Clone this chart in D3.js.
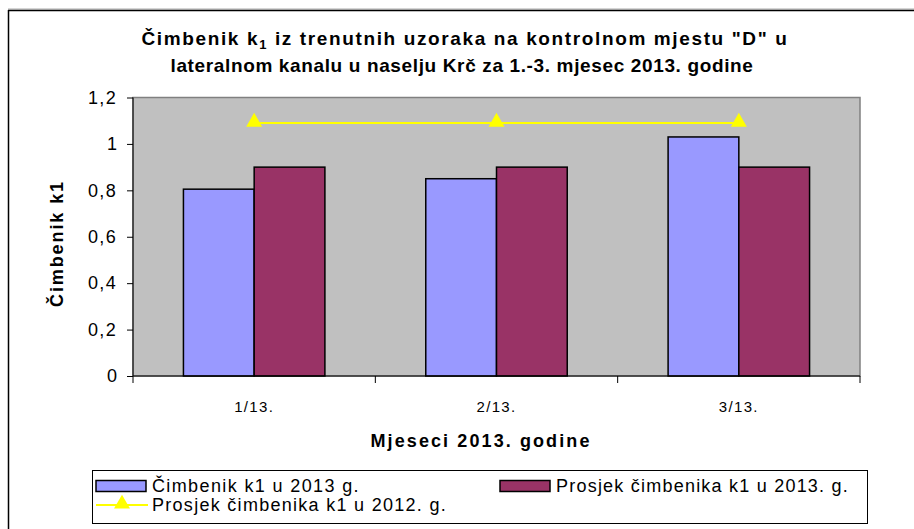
<!DOCTYPE html>
<html>
<head>
<style>
body {margin: 0; background: #fff;}
text {font-family: "Liberation Sans", Arial, sans-serif;}
</style>
<script src="https://d3js.org/d3.v7.min.js"></script>
</head>
<body>
<svg id="chart" width="914" height="529"></svg>
<script>
// chart data
var months = ["1/13.", "2/13.", "3/13."];
var k1_2013 = [0.805, 0.85, 1.03];
var avg_2013 = [0.9, 0.9, 0.9];
var avg_2012 = [1.09, 1.09, 1.09];
var yTicks = [0, 0.2, 0.4, 0.6, 0.8, 1, 1.2];
var seriesNames = ["Čimbenik k1 u 2013 g.", "Prosjek čimbenika k1 u 2013. g.", "Prosjek čimbenika k1 u 2012. g."];

var svg = d3.select("#chart");
var pLeft = 133, pRight = 860, pTop = 97.5, pBottom = 376;

// spread letters so a text reaches the width it has in the picture
function fit(sel, target) {
  sel.each(function() {
    var len = this.getComputedTextLength();
    var n = this.textContent.length;
    if (n > 1) d3.select(this).style("letter-spacing", ((target - len) / n) + "px");
  });
}

// outer frame (top + left visible)
svg.append("line").attr("x1", 8).attr("y1", 9).attr("x2", 914).attr("y2", 9).style("stroke", "#aaa");
svg.append("line").attr("x1", 8).attr("y1", 10.5).attr("x2", 914).attr("y2", 10.5).style("stroke", "#000").style("stroke-width", 1.5);
svg.append("line").attr("x1", 8.5).attr("y1", 10).attr("x2", 8.5).attr("y2", 529).style("stroke", "#000").style("stroke-width", 1.5);

var x = d3.scaleBand().domain(months).range([pLeft, pRight]).paddingInner(0).paddingOuter(0);
var inner = d3.scaleBand().domain([0, 1]).range([0, x.bandwidth()]).paddingOuter(0.713).paddingInner(0);
var y = d3.scaleLinear().domain([0, 1.2]).range([pBottom, pTop]);

// plot background
svg.append("rect").attr("x", pLeft).attr("y", pTop).attr("width", pRight - pLeft).attr("height", pBottom - pTop)
  .style("fill", "#c0c0c0").style("stroke", "#808080").style("stroke-width", 1.5);

// bars
var colors = ["#9999ff", "#993366"];
[k1_2013, avg_2013].forEach(function(series, s) {
  svg.append("g").selectAll("rect").data(series).enter().append("rect")
    .attr("x", function(d, i) { return x(months[i]) + inner(s); })
    .attr("y", function(d) { return y(d); })
    .attr("width", inner.bandwidth())
    .attr("height", function(d) { return y(0) - y(d); })
    .style("fill", colors[s]).style("stroke", "#000").style("stroke-width", 1.5);
});

// 2012 average line
var cx = function(d, i) { return x(months[i]) + x.bandwidth() / 2; };
var line = d3.line().x(cx).y(function(d) { return y(d); });
svg.append("path").datum(avg_2012).attr("d", line).style("fill", "none").style("stroke", "#ffff00").style("stroke-width", 2);
svg.append("g").selectAll("path").data(avg_2012).enter().append("path")
  .attr("d", d3.symbol().type(d3.symbolTriangle).size(110))
  .attr("transform", function(d, i) { return "translate(" + cx(d, i) + "," + (y(d) - 1) + ")"; })
  .style("fill", "#ffff00");

// axes
var yAxis = d3.axisLeft(y).tickValues(yTicks).tickSize(6).tickPadding(10)
  .tickFormat(function(d) { return String(d).replace(".", ","); });
var gy = svg.append("g").attr("transform", "translate(" + pLeft + ",0)").call(yAxis);
gy.selectAll("text").style("font-size", "18px").style("fill", "#000");
gy.selectAll("line, path").style("stroke", "#000");
gy.select(".domain").attr("d", "M0," + pTop + "V" + pBottom);
gy.selectAll("text").filter(function(d) { return d !== 0 && d !== 1; }).call(fit, 29);

var xAxis = d3.axisBottom(x).tickSize(0).tickPadding(25);
var gx = svg.append("g").attr("transform", "translate(0," + pBottom + ")").call(xAxis);
gx.select(".domain").attr("d", "M" + pLeft + ",0H" + pRight).style("stroke", "#000");
gx.selectAll("text").style("font-size", "15px").style("fill", "#000").call(fit, 40);
gx.selectAll("line.sep").data(months.concat(["end"])).enter().append("line").attr("class", "sep")
  .attr("x1", function(d, i) { return pLeft + i * x.bandwidth(); })
  .attr("x2", function(d, i) { return pLeft + i * x.bandwidth(); })
  .attr("y1", 0).attr("y2", 7).style("stroke", "#000");

// titles
var title = svg.append("text").attr("x", 465).attr("y", 45).attr("text-anchor", "middle")
  .style("font-size", "19px").style("font-weight", "bold");
title.append("tspan").text("Čimbenik k");
title.append("tspan").attr("dy", 4).style("font-size", "13px").text("1");
title.append("tspan").attr("dy", -4).text(" iz trenutnih uzoraka na kontrolnom mjestu \"D\" u");
title.call(fit, 647);
svg.append("text").attr("x", 462).attr("y", 72).attr("text-anchor", "middle")
  .style("font-size", "19px").style("font-weight", "bold")
  .text("lateralnom kanalu u naselju Krč za 1.-3. mjesec 2013. godine").call(fit, 583);

svg.append("text").attr("transform", "translate(63,243.5) rotate(-90)").attr("text-anchor", "middle")
  .style("font-size", "18px").style("font-weight", "bold").text("Čimbenik k1").call(fit, 127);
svg.append("text").attr("x", 481).attr("y", 447).attr("text-anchor", "middle")
  .style("font-size", "18px").style("font-weight", "bold").text("Mjeseci 2013. godine").call(fit, 221);

// legend
var lg = svg.append("g");
lg.append("rect").attr("x", 92.5).attr("y", 470.5).attr("width", 775).attr("height", 53)
  .style("fill", "#fff").style("stroke", "#000");
var items = [
  {x: 96, y: 486, type: "bar", color: colors[0], name: seriesNames[0], w: 208},
  {x: 500, y: 486, type: "bar", color: colors[1], name: seriesNames[1], w: 293},
  {x: 96, y: 505, type: "line", color: "#ffff00", name: seriesNames[2], w: 295}
];
items.forEach(function(it) {
  if (it.type === "bar") {
    lg.append("rect").attr("x", it.x).attr("y", it.y - 5.5).attr("width", 50).attr("height", 11)
      .style("fill", it.color).style("stroke", "#000").style("stroke-width", 1.5);
  } else {
    lg.append("line").attr("x1", it.x).attr("x2", it.x + 52).attr("y1", it.y).attr("y2", it.y)
      .style("stroke", it.color).style("stroke-width", 2);
    lg.append("path").attr("d", d3.symbol().type(d3.symbolTriangle).size(110))
      .attr("transform", "translate(" + (it.x + 26) + "," + (it.y - 1) + ")").style("fill", it.color);
  }
  lg.append("text").attr("x", it.x + 56).attr("y", it.y + 6).style("font-size", "18px").text(it.name).call(fit, it.w);
});
</script>
</body>
</html>
